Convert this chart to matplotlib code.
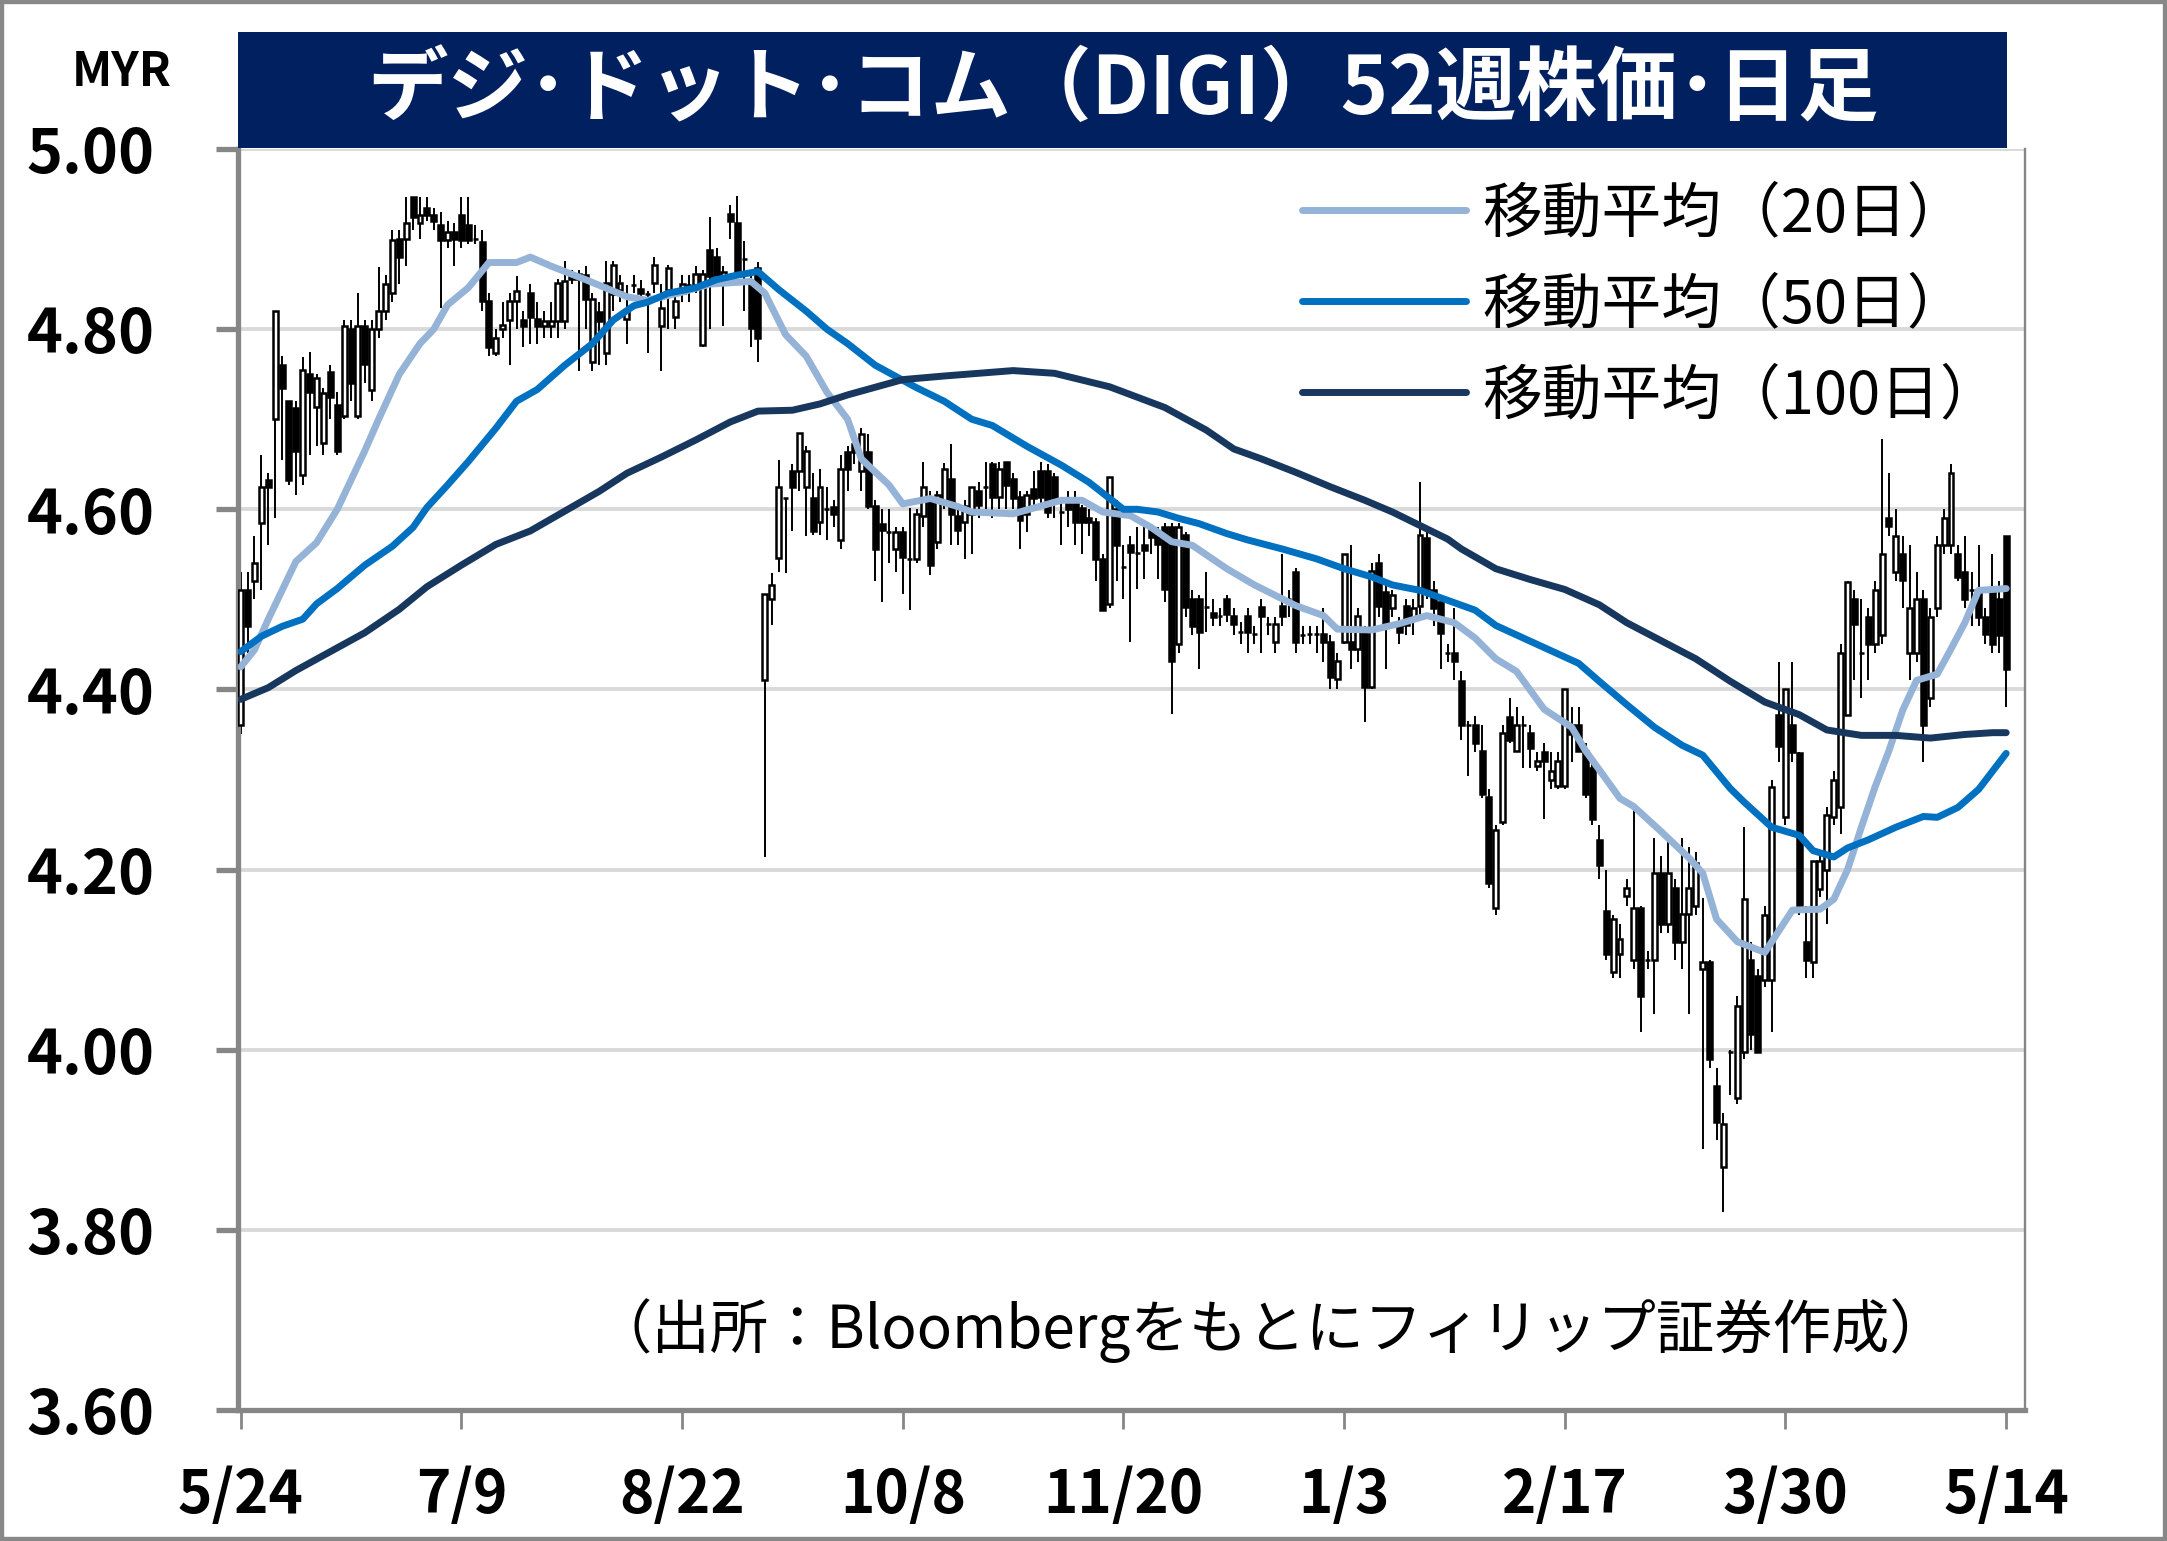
import numpy as np
import matplotlib
matplotlib.use("Agg")
import matplotlib.pyplot as plt
from matplotlib.patches import Rectangle

plt.rcParams['font.family'] = ['Noto Sans CJK JP', 'DejaVu Sans']

# daily candles (MYR), oldest first
opens = [4.36, 4.51, 4.52, 4.585, 4.633, 4.70, 4.76, 4.72, 4.712, 4.638,
         4.75, 4.714, 4.674, 4.752, 4.716, 4.704, 4.80, 4.704, 4.803, 4.733,
         4.80, 4.82, 4.84, 4.90, 4.90, 4.947, 4.918, 4.935, 4.927, 4.916,
         4.899, 4.908, 4.927, 4.916, 4.90, 4.897, 4.831, 4.774, 4.80, 4.81,
         4.831, 4.81, 4.84, 4.811, 4.804, 4.804, 4.809, 4.809, 4.861, 4.861,
         4.86, 4.764, 4.819, 4.774, 4.839, 4.844, 4.811, 4.849, 4.845, 4.839,
         4.851, 4.804, 4.844, 4.814, 4.84, 4.849, 4.849, 4.782, 4.888, 4.88,
         4.856, 4.928, 4.918, 4.878, 4.853, 4.868,
         4.41, 4.50, 4.546, 4.613, 4.643, 4.643, 4.625, 4.613, 4.586, 4.60, 4.603, 4.566,
         4.664, 4.673, 4.643, 4.664, 4.604, 4.584, 4.575, 4.556, 4.575, 4.545,
         4.545, 4.593, 4.614, 4.564, 4.608, 4.634, 4.593, 4.586, 4.595, 4.62,
         4.625, 4.65, 4.614, 4.652, 4.634, 4.614, 4.595, 4.623, 4.643, 4.643,
         4.636, 4.597, 4.61, 4.612, 4.601, 4.59, 4.586, 4.545, 4.495, 4.60, 4.536,
         4.56, 4.551, 4.56, 4.577, 4.573, 4.58, 4.58, 4.45, 4.571, 4.50,
         4.50, 4.492, 4.485, 4.482, 4.50, 4.482, 4.464, 4.482, 4.462, 4.492,
         4.473, 4.453, 4.493, 4.50, 4.53, 4.46, 4.462, 4.462, 4.462, 4.453,
         4.412, 4.453, 4.453, 4.445, 4.464, 4.403, 4.54, 4.508, 4.49, 4.471, 4.493, 4.48, 4.493,
         4.568, 4.51, 4.497, 4.44, 4.44, 4.409, 4.361, 4.36, 4.332, 4.281,
         4.157, 4.253, 4.369, 4.332, 4.36, 4.352, 4.315, 4.33, 4.30, 4.293,
         4.293, 4.36, 4.36, 4.332, 4.313, 4.233, 4.154, 4.086, 4.106, 4.171,
         4.10, 4.157, 4.10, 4.10, 4.196, 4.14, 4.18, 4.12, 4.151, 4.16,
         4.09, 4.097, 3.96, 3.87, 3.998, 3.946, 3.997,
         4.10, 4.082, 4.077, 4.077, 4.372, 4.258, 4.36, 4.329, 4.12, 4.097,
         4.179, 4.199, 4.258, 4.27, 4.372, 4.50, 4.44, 4.48, 4.45, 4.46,
         4.59, 4.53, 4.55, 4.44, 4.44, 4.50, 4.39, 4.49, 4.56, 4.56,
         4.55, 4.53, 4.51, 4.51, 4.48, 4.51, 4.50, 4.57]
highs = [4.53, 4.53, 4.57, 4.66, 4.64, 4.82, 4.77, 4.72, 4.72, 4.769,
         4.775, 4.75, 4.735, 4.76, 4.73, 4.81, 4.81, 4.84, 4.81, 4.81,
         4.869, 4.86, 4.91, 4.91, 4.947, 4.947, 4.947, 4.947, 4.935, 4.93,
         4.92, 4.918, 4.947, 4.947, 4.916, 4.91, 4.84, 4.80, 4.83, 4.84,
         4.859, 4.82, 4.85, 4.83, 4.82, 4.83, 4.856, 4.876, 4.866, 4.866,
         4.87, 4.84, 4.83, 4.876, 4.876, 4.86, 4.849, 4.86, 4.855, 4.842,
         4.88, 4.85, 4.871, 4.84, 4.86, 4.86, 4.87, 4.866, 4.925, 4.89,
         4.87, 4.938, 4.948, 4.898, 4.86, 4.875,
         4.506, 4.529, 4.655, 4.613, 4.65, 4.685, 4.67, 4.64, 4.645, 4.625, 4.61, 4.66,
         4.67, 4.684, 4.69, 4.684, 4.61, 4.60, 4.60, 4.58, 4.58, 4.601,
         4.60, 4.653, 4.62, 4.62, 4.651, 4.673, 4.60, 4.61, 4.625, 4.63,
         4.653, 4.653, 4.653, 4.653, 4.64, 4.62, 4.62, 4.643, 4.653, 4.65,
         4.64, 4.61, 4.62, 4.62, 4.605, 4.60, 4.59, 4.55, 4.636, 4.61, 4.56,
         4.57, 4.58, 4.582, 4.58, 4.58, 4.585, 4.585, 4.585, 4.575, 4.51,
         4.505, 4.53, 4.50, 4.49, 4.505, 4.49, 4.475, 4.49, 4.47, 4.50,
         4.48, 4.48, 4.55, 4.51, 4.535, 4.47, 4.47, 4.47, 4.49, 4.46,
         4.44, 4.55, 4.56, 4.49, 4.47, 4.54, 4.55, 4.52, 4.51, 4.48, 4.50, 4.50, 4.63,
         4.58, 4.52, 4.50, 4.45, 4.49, 4.42, 4.365, 4.37, 4.361, 4.29,
         4.25, 4.36, 4.39, 4.38, 4.37, 4.36, 4.33, 4.34, 4.33, 4.33,
         4.40, 4.38, 4.38, 4.34, 4.32, 4.25, 4.20, 4.15, 4.14, 4.19,
         4.268, 4.16, 4.11, 4.235, 4.215, 4.235, 4.19, 4.235, 4.225, 4.22,
         4.168, 4.10, 3.98, 3.93, 4.00, 4.06, 4.247,
         4.12, 4.09, 4.16, 4.30, 4.43, 4.40, 4.43, 4.33, 4.16, 4.21,
         4.22, 4.27, 4.31, 4.45, 4.52, 4.51, 4.50, 4.49, 4.52, 4.678,
         4.64, 4.60, 4.57, 4.56, 4.53, 4.51, 4.49, 4.57, 4.60, 4.65,
         4.56, 4.57, 4.53, 4.56, 4.49, 4.55, 4.52, 4.57]
lows = [4.35, 4.44, 4.50, 4.51, 4.56, 4.59, 4.655, 4.627, 4.616, 4.627,
        4.66, 4.67, 4.66, 4.70, 4.66, 4.70, 4.72, 4.70, 4.74, 4.72,
        4.79, 4.81, 4.83, 4.85, 4.87, 4.91, 4.90, 4.92, 4.91, 4.823,
        4.89, 4.87, 4.89, 4.895, 4.895, 4.82, 4.77, 4.77, 4.79, 4.76,
        4.80, 4.78, 4.784, 4.784, 4.79, 4.79, 4.79, 4.80, 4.85, 4.754,
        4.80, 4.754, 4.76, 4.76, 4.82, 4.83, 4.784, 4.84, 4.83, 4.774,
        4.84, 4.754, 4.80, 4.80, 4.83, 4.83, 4.84, 4.78, 4.80, 4.85,
        4.804, 4.90, 4.86, 4.82, 4.78, 4.764,
        4.214, 4.472, 4.53, 4.529, 4.576, 4.62, 4.57, 4.571, 4.571, 4.566, 4.58, 4.556,
        4.62, 4.65, 4.62, 4.60, 4.52, 4.497, 4.54, 4.53, 4.506, 4.488,
        4.54, 4.58, 4.527, 4.556, 4.60, 4.56, 4.56, 4.545, 4.55, 4.59,
        4.60, 4.59, 4.60, 4.60, 4.60, 4.556, 4.575, 4.60, 4.60, 4.59,
        4.59, 4.56, 4.58, 4.56, 4.55, 4.57, 4.52, 4.488, 4.49, 4.52, 4.50,
        4.453, 4.512, 4.523, 4.55, 4.523, 4.497, 4.373, 4.44, 4.48, 4.46,
        4.423, 4.464, 4.47, 4.47, 4.475, 4.46, 4.45, 4.44, 4.45, 4.44,
        4.46, 4.44, 4.47, 4.48, 4.44, 4.45, 4.45, 4.44, 4.43, 4.40,
        4.40, 4.45, 4.423, 4.43, 4.364, 4.40, 4.48, 4.423, 4.48, 4.45, 4.46, 4.46, 4.48,
        4.50, 4.47, 4.423, 4.43, 4.41, 4.344, 4.304, 4.33, 4.28, 4.18,
        4.15, 4.25, 4.34, 4.33, 4.313, 4.313, 4.31, 4.256, 4.29, 4.29,
        4.29, 4.32, 4.33, 4.28, 4.25, 4.19, 4.10, 4.08, 4.08, 4.16,
        4.09, 4.02, 4.09, 4.04, 4.13, 4.13, 4.10, 4.09, 4.04, 4.15,
        3.89, 3.98, 3.90, 3.82, 3.95, 3.94, 3.99,
        4.00, 3.997, 4.07, 4.02, 4.32, 4.25, 4.32, 4.15, 4.08, 4.08,
        4.17, 4.14, 4.25, 4.24, 4.37, 4.41, 4.39, 4.41, 4.44, 4.45,
        4.57, 4.52, 4.49, 4.41, 4.43, 4.32, 4.38, 4.48, 4.55, 4.55,
        4.52, 4.49, 4.47, 4.47, 4.45, 4.44, 4.44, 4.38]
closes = [4.51, 4.47, 4.54, 4.625, 4.625, 4.82, 4.735, 4.633, 4.665, 4.755,
          4.73, 4.746, 4.729, 4.725, 4.665, 4.803, 4.74, 4.803, 4.761, 4.80,
          4.82, 4.85, 4.899, 4.88, 4.918, 4.925, 4.927, 4.927, 4.92, 4.899,
          4.908, 4.90, 4.899, 4.899, 4.90, 4.831, 4.78, 4.79, 4.805, 4.831,
          4.842, 4.803, 4.814, 4.804, 4.809, 4.809, 4.851, 4.854, 4.856, 4.856,
          4.834, 4.834, 4.809, 4.851, 4.871, 4.851, 4.821, 4.849, 4.84, 4.839,
          4.871, 4.824, 4.868, 4.831, 4.85, 4.849, 4.861, 4.861, 4.859, 4.86,
          4.863, 4.92, 4.863, 4.878, 4.801, 4.79,
          4.506, 4.516, 4.625, 4.613, 4.625, 4.685, 4.665, 4.576, 4.625, 4.60, 4.595, 4.645,
          4.645, 4.664, 4.684, 4.604, 4.556, 4.577, 4.575, 4.575, 4.547, 4.545,
          4.595, 4.625, 4.538, 4.616, 4.645, 4.595, 4.577, 4.604, 4.625, 4.605,
          4.625, 4.614, 4.645, 4.627, 4.612, 4.588, 4.616, 4.612, 4.614, 4.597,
          4.612, 4.597, 4.60, 4.586, 4.586, 4.586, 4.545, 4.488, 4.636, 4.56, 4.536,
          4.553, 4.551, 4.555, 4.569, 4.562, 4.512, 4.432, 4.58, 4.492, 4.47,
          4.464, 4.492, 4.48, 4.482, 4.484, 4.473, 4.464, 4.464, 4.462, 4.482,
          4.473, 4.473, 4.482, 4.50, 4.453, 4.46, 4.462, 4.462, 4.453, 4.414,
          4.432, 4.55, 4.445, 4.482, 4.403, 4.532, 4.493, 4.471, 4.505, 4.464, 4.471, 4.49, 4.571,
          4.511, 4.49, 4.463, 4.44, 4.432, 4.361, 4.361, 4.34, 4.284, 4.185,
          4.244, 4.352, 4.344, 4.36, 4.36, 4.335, 4.321, 4.321, 4.31, 4.321,
          4.40, 4.35, 4.332, 4.284, 4.256, 4.205, 4.106, 4.145, 4.123, 4.18,
          4.157, 4.06, 4.10, 4.196, 4.14, 4.196, 4.12, 4.151, 4.18, 4.207,
          4.097, 3.99, 3.92, 3.918, 3.998, 4.048, 4.167,
          4.017, 3.997, 4.15, 4.292, 4.337, 4.40, 4.33, 4.156, 4.10, 4.21,
          4.21, 4.261, 4.30, 4.44, 4.519, 4.473, 4.44, 4.45, 4.51, 4.55,
          4.581, 4.57, 4.522, 4.49, 4.50, 4.36, 4.48, 4.56, 4.59, 4.64,
          4.525, 4.50, 4.51, 4.48, 4.462, 4.45, 4.46, 4.423]

# moving averages (day index, value)
ma20_x = [0, 2, 4, 6, 8, 11, 14, 18, 20, 23, 26, 28, 30, 33, 36, 40, 42, 45, 50, 56,
          59, 64, 68, 74, 76, 79, 82, 85, 88, 90, 94, 96, 100, 104, 106, 112, 119, 122, 125, 129,
          132, 135, 138, 143, 147, 153, 157, 159, 164, 168, 172, 176, 179, 182, 185, 189, 193, 195, 200, 202,
          206, 210, 212, 214, 217, 221, 225, 229, 231, 233, 235, 237, 239, 241, 243, 246, 248, 250, 252, 256]
ma20_y = [4.425, 4.444, 4.478, 4.51, 4.542, 4.563, 4.60, 4.665, 4.70, 4.75, 4.784, 4.80, 4.827, 4.846, 4.874, 4.874, 4.88, 4.87, 4.855, 4.836,
          4.832, 4.841, 4.85, 4.853, 4.84, 4.794, 4.77, 4.73, 4.70, 4.656, 4.627, 4.606, 4.612, 4.603, 4.597, 4.595, 4.61, 4.61, 4.597, 4.593,
          4.58, 4.564, 4.56, 4.534, 4.516, 4.493, 4.482, 4.467, 4.466, 4.473, 4.482, 4.474, 4.457, 4.434, 4.42, 4.378, 4.358, 4.332, 4.279, 4.27,
          4.242, 4.213, 4.196, 4.145, 4.12, 4.108, 4.155, 4.156, 4.167, 4.20, 4.247, 4.292, 4.332, 4.377, 4.41, 4.417, 4.445, 4.474, 4.51, 4.512]
ma50_x = [0, 3, 6, 9, 11, 14, 18, 22, 25, 27, 30, 33, 37, 40, 43, 47, 51, 54, 57, 59,
          62, 66, 69, 72, 75, 78, 82, 85, 88, 92, 98, 102, 106, 109, 114, 119, 123, 126, 128, 130,
          133, 136, 139, 143, 146, 151, 156, 160, 164, 167, 171, 175, 179, 182, 186, 190, 194, 197, 201, 205,
          209, 212, 216, 218, 222, 226, 228, 231, 233, 236, 240, 244, 246, 249, 252, 254, 256]
ma50_y = [4.442, 4.459, 4.47, 4.478, 4.495, 4.512, 4.538, 4.559, 4.58, 4.602, 4.627, 4.653, 4.69, 4.72, 4.733, 4.76, 4.784, 4.81, 4.826, 4.83,
          4.84, 4.846, 4.855, 4.86, 4.864, 4.844, 4.82, 4.80, 4.784, 4.76, 4.735, 4.72, 4.70, 4.693, 4.67, 4.649, 4.63, 4.612, 4.60, 4.60,
          4.597, 4.59, 4.584, 4.573, 4.566, 4.556, 4.545, 4.534, 4.525, 4.516, 4.51, 4.499, 4.488, 4.471, 4.457, 4.443, 4.429, 4.409, 4.383, 4.358,
          4.338, 4.327, 4.29, 4.275, 4.247, 4.238, 4.221, 4.214, 4.224, 4.233, 4.247, 4.259, 4.258, 4.269, 4.289, 4.309, 4.329]
ma100_x = [0, 4, 8, 13, 18, 23, 27, 32, 37, 42, 47, 52, 56, 61, 66, 71, 75, 80, 84, 88,
           96, 102, 112, 118, 126, 134, 140, 144, 148, 153, 158, 163, 167, 171, 175, 177, 182, 187, 192, 197,
           201, 206, 211, 216, 221, 226, 230, 235, 240, 245, 250, 254, 256]
ma100_y = [4.389, 4.402, 4.421, 4.442, 4.463, 4.489, 4.514, 4.538, 4.561, 4.576, 4.598, 4.62, 4.64, 4.658, 4.677, 4.697, 4.709, 4.71, 4.717, 4.727,
           4.744, 4.748, 4.754, 4.751, 4.736, 4.713, 4.688, 4.667, 4.656, 4.641, 4.625, 4.61, 4.597, 4.582, 4.567, 4.556, 4.534, 4.522, 4.511, 4.494,
           4.474, 4.454, 4.434, 4.409, 4.386, 4.372, 4.355, 4.349, 4.349, 4.346, 4.35, 4.352, 4.352]

tick_pos = [0, 32, 64, 96, 128, 160, 192, 224, 256]
tick_labels = ['5/24', '7/9', '8/22', '10/8', '11/20', '1/3', '2/17', '3/30', '5/14']
y_ticks = [3.60, 3.80, 4.00, 4.20, 4.40, 4.60, 4.80, 5.00]

title = 'デジ･ドット･コム（DIGI）52週株価･日足'
source = '（出所：Bloombergをもとにフィリップ証券作成）'

fig = plt.figure(figsize=(21.67, 15.41), dpi=100)
ax = fig.add_axes([0.1098, 0.0850, 0.8249, 0.8183])

o = np.array(opens)
h = np.array(highs)
l = np.array(lows)
c = np.array(closes)
x = np.arange(len(c))
up = c >= o

# candles
ax.vlines(x, l, h, color='black', lw=1.4, zorder=2)
ax.bar(x[up], (c - o)[up], bottom=o[up], width=0.72, facecolor='white',
       edgecolor='black', lw=1.8, zorder=3)
ax.bar(x[~up], (o - c)[~up], bottom=c[~up], width=0.72, facecolor='black',
       edgecolor='black', lw=1.8, zorder=3)

# moving averages
ax.plot(ma20_x, ma20_y, color='#95B3D7', lw=5, label='移動平均（20日）', zorder=4,
        solid_joinstyle='round', solid_capstyle='round')
ax.plot(ma50_x, ma50_y, color='#0070C0', lw=5, label='移動平均（50日）', zorder=4,
        solid_joinstyle='round', solid_capstyle='round')
ax.plot(ma100_x, ma100_y, color='#17375E', lw=5, label='移動平均（100日）', zorder=4,
        solid_joinstyle='round', solid_capstyle='round')

ax.set_xlim(-0.4, 258.8)
ax.set_ylim(3.60, 5.00)
ax.set_yticks(y_ticks)
ax.set_yticklabels([f'{v:.2f}' for v in y_ticks], fontsize=44, fontweight='bold')
ax.set_xticks(tick_pos)
ax.set_xticklabels(tick_labels, fontsize=42, fontweight='bold')

ax.yaxis.grid(True, color='#D9D9D9', lw=2.8)
ax.set_axisbelow(True)
for s in ['left', 'bottom']:
    ax.spines[s].set_color('#868686')
    ax.spines[s].set_linewidth(3.8)
ax.spines['right'].set_color('#868686')
ax.spines['right'].set_linewidth(1.7)
ax.spines['top'].set_visible(False)
ax.tick_params(axis='y', direction='out', length=16, width=3.8, color='#868686', pad=44)
ax.tick_params(axis='x', direction='out', length=14, width=2, color='#868686', pad=26)

leg = ax.legend(loc='upper left', bbox_to_anchor=(0.595, 0.972), frameon=False,
                fontsize=43, handlelength=2.75, handletextpad=0.28, labelspacing=0.5,
                borderpad=0, borderaxespad=0)

ax.text(0.578, 0.0634, source, transform=ax.transAxes, fontsize=42,
        ha='center', va='center')

# title banner
fig.add_artist(Rectangle((0.1098, 0.904), 0.8163, 0.0753, transform=fig.transFigure,
                         facecolor='#002060', edgecolor='none', zorder=5))
fig.text(0.518, 0.9416, title, color='white', fontsize=58, fontweight='bold',
         ha='center', va='center', zorder=6)
fig.text(0.0563, 0.953, 'MYR', fontsize=34, fontweight='bold', ha='center', va='center')

# outer frame
fig.add_artist(Rectangle((0, 0), 1, 1, transform=fig.transFigure, fill=False,
                         edgecolor='#888888', lw=6, zorder=10))

fig.savefig('out.png', dpi=100)
